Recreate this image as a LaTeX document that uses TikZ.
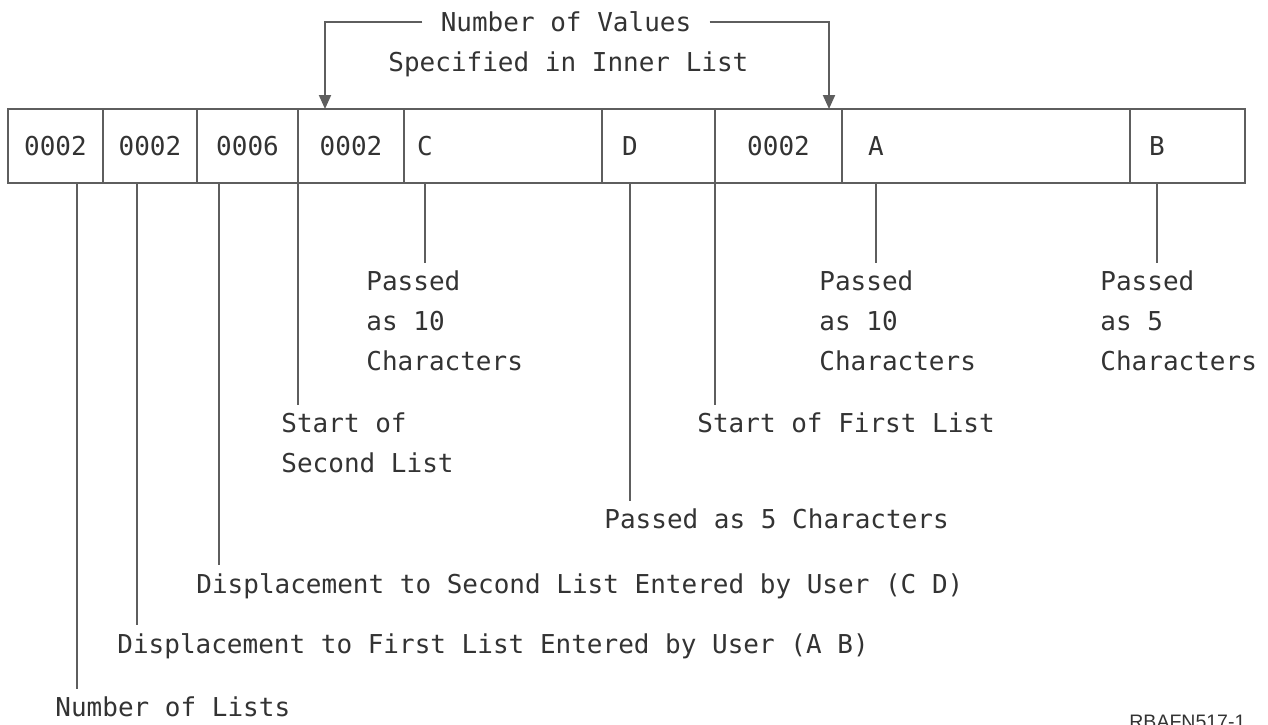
\documentclass[tikz,border=0pt]{standalone}
\usepackage{fontspec}
\setmonofont{DejaVu Sans Mono}
\newfontfamily\figidfont{Liberation Sans}
\usepackage{xcolor}
\usetikzlibrary{arrows.meta, positioning}
\definecolor{linegray}{HTML}{5E5E5E}
\definecolor{textgray}{HTML}{333333}

\begin{document}
\begin{tikzpicture}[x=0.5pt, y=-0.5pt, >={Triangle[width=6pt,length=7pt]}]

    \tikzset{% styles for the fields and the captions
        field/.style={rectangle, draw=linegray, line width=1pt, minimum width=#1,
                      minimum height=37pt, inner sep=0pt, outer sep=0pt,
                      text=textgray, font=\ttfamily\fontsize{13}{20}\selectfont},
        caption/.style={anchor=north west, inner sep=0pt, align=left,
                        text=textgray, font=\ttfamily\fontsize{13}{20}\selectfont},
        leader/.style={draw=linegray, line width=1pt}}

    \useasboundingbox (0,0) rectangle (1268,724);

    % the fields of the list
    \node [field=47.5pt] (f_1) at (55.5,146) {0002};
    \node [field=47pt]   (f_2) at (150,146) {0002};
    \node [field=50.5pt] (f_3) at (247.5,146) {0006};
    \node [field=53pt]   (f_4) at (351,146) {0002};
    \node [field=99pt]   (f_5) at (503,146) {};
    \node [field=56.5pt] (f_6) at (658.5,146) {};
    \node [field=63.5pt] (f_7) at (778.5,146) {0002};
    \node [field=144pt]  (f_8) at (986,146) {};
    \node [field=57.5pt] (f_9) at (1187.5,146) {};

    \node [caption, anchor=center] (v_C) at (425,146) {C};
    \node [caption, anchor=center] (v_D) at (630,146) {D};
    \node [caption, anchor=center] (v_A) at (876,146) {A};
    \node [caption, anchor=center] (v_B) at (1157,146) {B};

    % number of values in the inner lists
    \node [caption, anchor=center, inner xsep=9pt] (n_vals) at (566,22) {Number of Values};
    \node [caption] (n_spec) at (388,51.5) {Specified in Inner List};
    \coordinate (h_2) at (325,109);
    \coordinate (h_1) at (829,109);
    \draw [leader,->] (n_vals.west) -| (h_2);
    \draw [leader,->] (n_vals.east) -| (h_1);

    % captions below the fields
    \node [caption] (c_nl)  at (55,696.7)  {Number of Lists};
    \node [caption] (c_d1)  at (117,632.7) {Displacement to First List Entered by User (A B)};
    \node [caption] (c_d2)  at (196,572.7) {Displacement to Second List Entered by User (C D)};
    \node [caption] (c_s2)  at (281,412.7) {Start of\\Second List};
    \node [caption] (c_pC)  at (366,270.7) {Passed\\as 10\\Characters};
    \node [caption] (c_pD)  at (604,508.7) {Passed as 5 Characters};
    \node [caption] (c_s1)  at (697,412.7) {Start of First List};
    \node [caption] (c_pA)  at (819,270.7) {Passed\\as 10\\Characters};
    \node [caption] (c_pB)  at (1100,270.7) {Passed\\as 5\\Characters};

    \coordinate (x_nl) at (77,0);
    \coordinate (x_d1) at (137,0);
    \coordinate (x_d2) at (219,0);

    \draw [leader] (x_nl |- f_1.south) -- ([yshift=4pt]x_nl |- c_nl.north);
    \draw [leader] (x_d1 |- f_2.south) -- ([yshift=4pt]x_d1 |- c_d1.north);
    \draw [leader] (x_d2 |- f_3.south) -- ([yshift=4pt]x_d2 |- c_d2.north);
    \draw [leader] (f_4.south west) -- ([yshift=4pt]f_4.south west |- c_s2.north);
    \draw [leader] (v_C |- f_5.south) -- ([yshift=4pt]v_C |- c_pC.north);
    \draw [leader] (v_D |- f_6.south) -- ([yshift=4pt]v_D |- c_pD.north);
    \draw [leader] (f_7.south west) -- ([yshift=4pt]f_7.south west |- c_s1.north);
    \draw [leader] (v_A |- f_8.south) -- ([yshift=4pt]v_A |- c_pA.north);
    \draw [leader] (v_B |- f_9.south) -- ([yshift=4pt]v_B |- c_pB.north);

    % figure id, cut by the lower edge as in the source
    \node [anchor=base west, inner sep=0pt, text=textgray,
           font=\figidfont\fontsize{9.75}{12}\selectfont] (fig_id) at (1129,728) {RBAFN517-1};

\end{tikzpicture}
\end{document}
